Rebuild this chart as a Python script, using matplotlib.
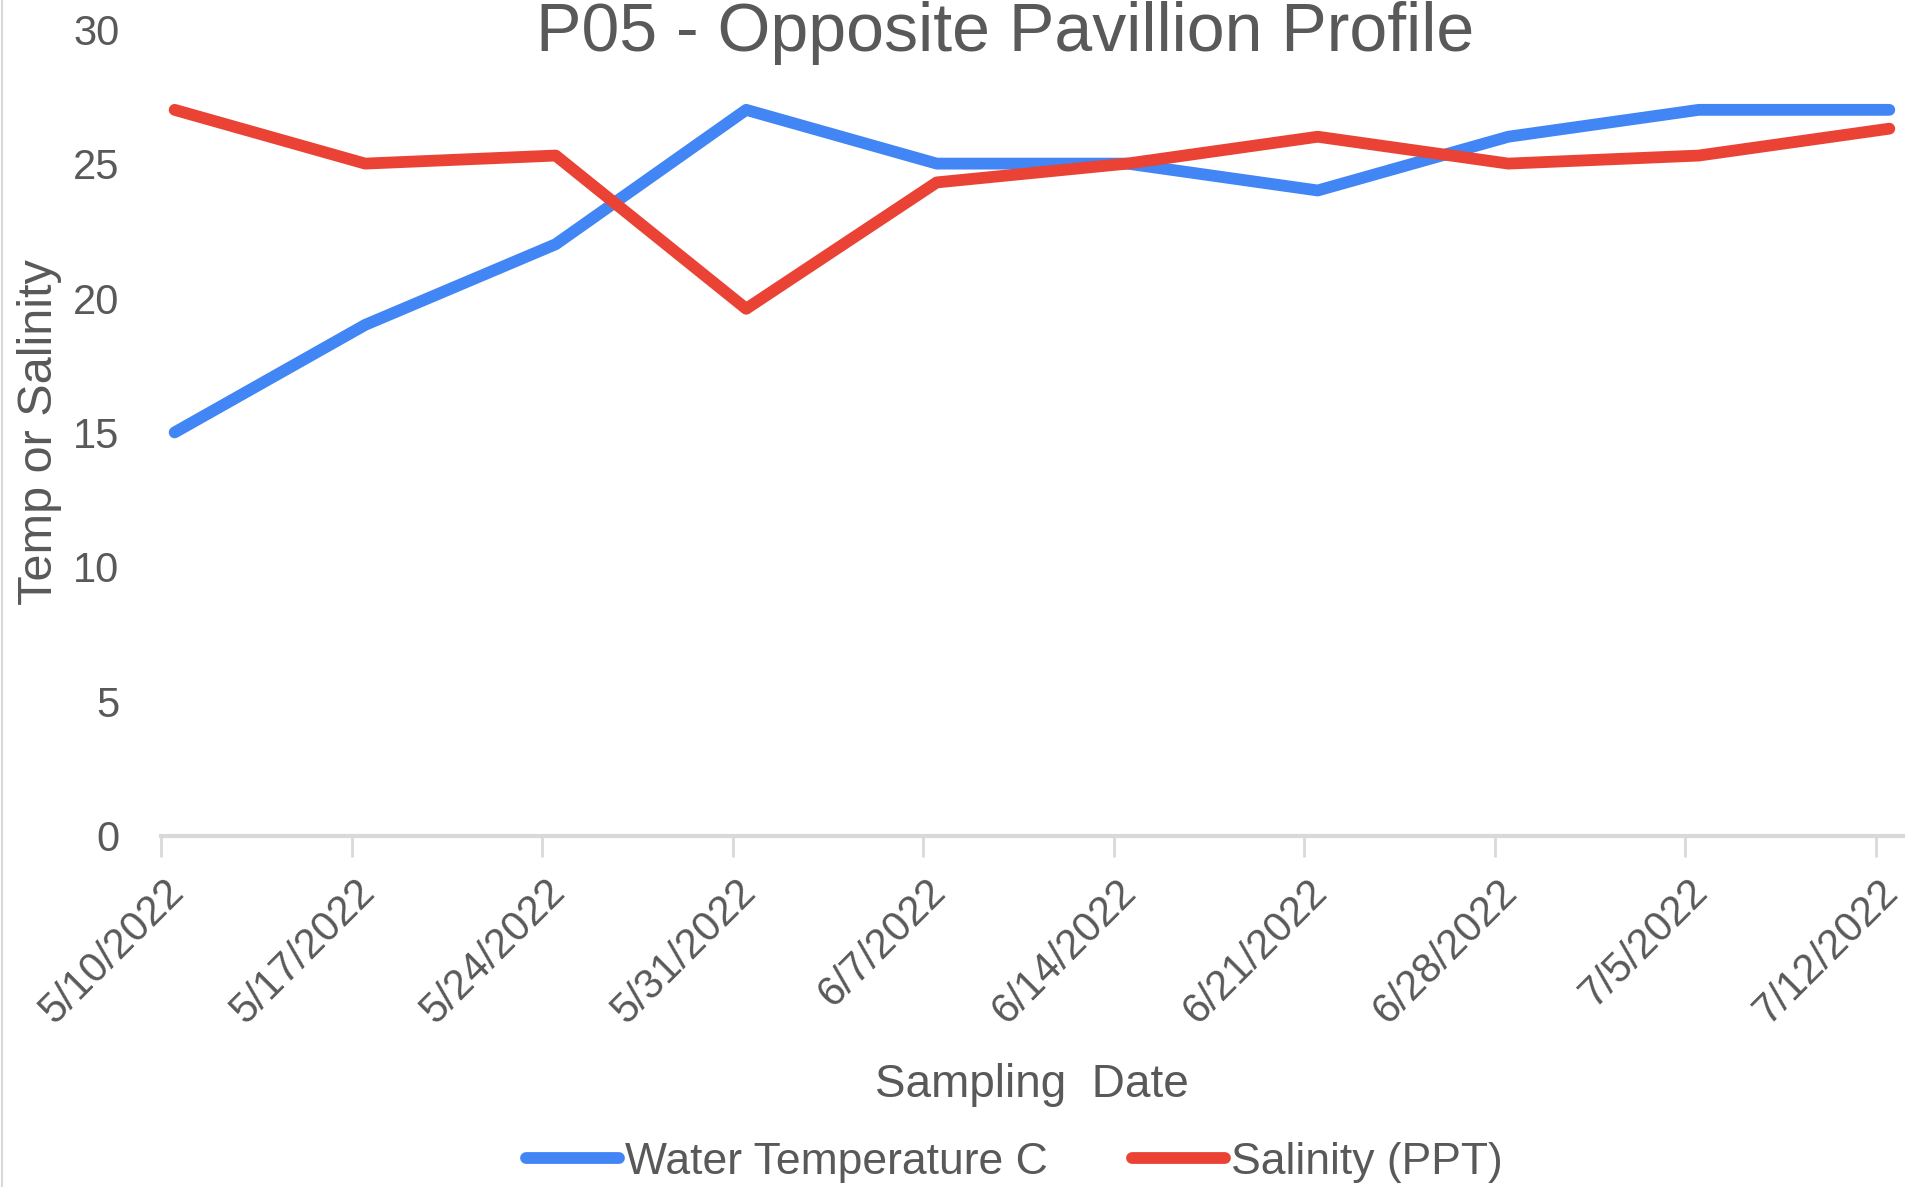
import matplotlib
matplotlib.use("Agg")
import matplotlib.pyplot as plt
import matplotlib.transforms as mtransforms
import pandas as pd

# data
dates = ["5/10/2022", "5/17/2022", "5/24/2022", "5/31/2022", "6/7/2022",
         "6/14/2022", "6/21/2022", "6/28/2022", "7/5/2022", "7/12/2022"]
water_temp = [15, 19, 22, 27, 25, 25, 24, 26, 27, 27]
salinity = [27, 25, 25.3, 19.6, 24.3, 25, 26, 25, 25.3, 26.3]

plt.rcParams['font.family'] = ['Liberation Sans', 'DejaVu Sans']
txt = '#595959'

day = pd.to_datetime(dates, format="%m/%d/%Y")
# samples were taken around midday, ticks sit on midnight
t = day + pd.Timedelta(hours=12)

fig = plt.figure(figsize=(19.1, 11.87), dpi=100)
ax = fig.add_axes([0.0843, 0.296, 0.912, 0.6794])

ax.plot(t, water_temp, color='#4285F4', lw=8.5, solid_capstyle='round',
        solid_joinstyle='round', label='Water Temperature C')
ax.plot(t, salinity, color='#EA4335', lw=8.5, solid_capstyle='round',
        solid_joinstyle='round', label='Salinity (PPT)')

ax.set_xlim(day[0], day[-1] + pd.Timedelta(days=1))
ax.set_ylim(0, 30)
ax.set_yticks(range(0, 31, 5))
ax.set_xticks(day)
ax.set_xticklabels(dates, rotation=45, ha='right', va='center',
                   rotation_mode='anchor')

for s in ['top', 'right', 'left']:
    ax.spines[s].set_visible(False)
ax.spines['bottom'].set_color('#d9d9d9')
ax.spines['bottom'].set_linewidth(3)
ax.spines['bottom'].set_zorder(0)
ax.tick_params(axis='x', length=15, width=2, color='#d9d9d9',
               labelsize=30, labelcolor=txt, pad=21)
ax.tick_params(axis='y', length=0, labelsize=30, labelcolor=txt, pad=30)

# nudge the date labels to the right like the original
shift = mtransforms.ScaledTranslation(0.17, 0, fig.dpi_scale_trans)
for lab in ax.get_xticklabels():
    lab.set_transform(lab.get_transform() + shift)

ax.set_xlabel('Sampling  Date', fontsize=33, color=txt, labelpad=23)
ax.set_ylabel('Temp or Salinity', fontsize=35, color=txt)
ax.yaxis.set_label_coords(-0.0568, 0.5)
fig.text(0.526, 0.957, 'P05 - Opposite Pavillion Profile', fontsize=49,
         color=txt, ha='center', va='baseline')

fig.legend(loc='center', bbox_to_anchor=(0.531, 0.021), ncol=2, frameon=False,
           fontsize=32, labelcolor=txt, handlelength=2.1, handletextpad=0.12,
           columnspacing=1.9)

fig.add_artist(plt.Line2D([0.001, 0.001], [0, 1], color='#d9d9d9', lw=1.5))

fig.savefig('out.png', dpi=100)
